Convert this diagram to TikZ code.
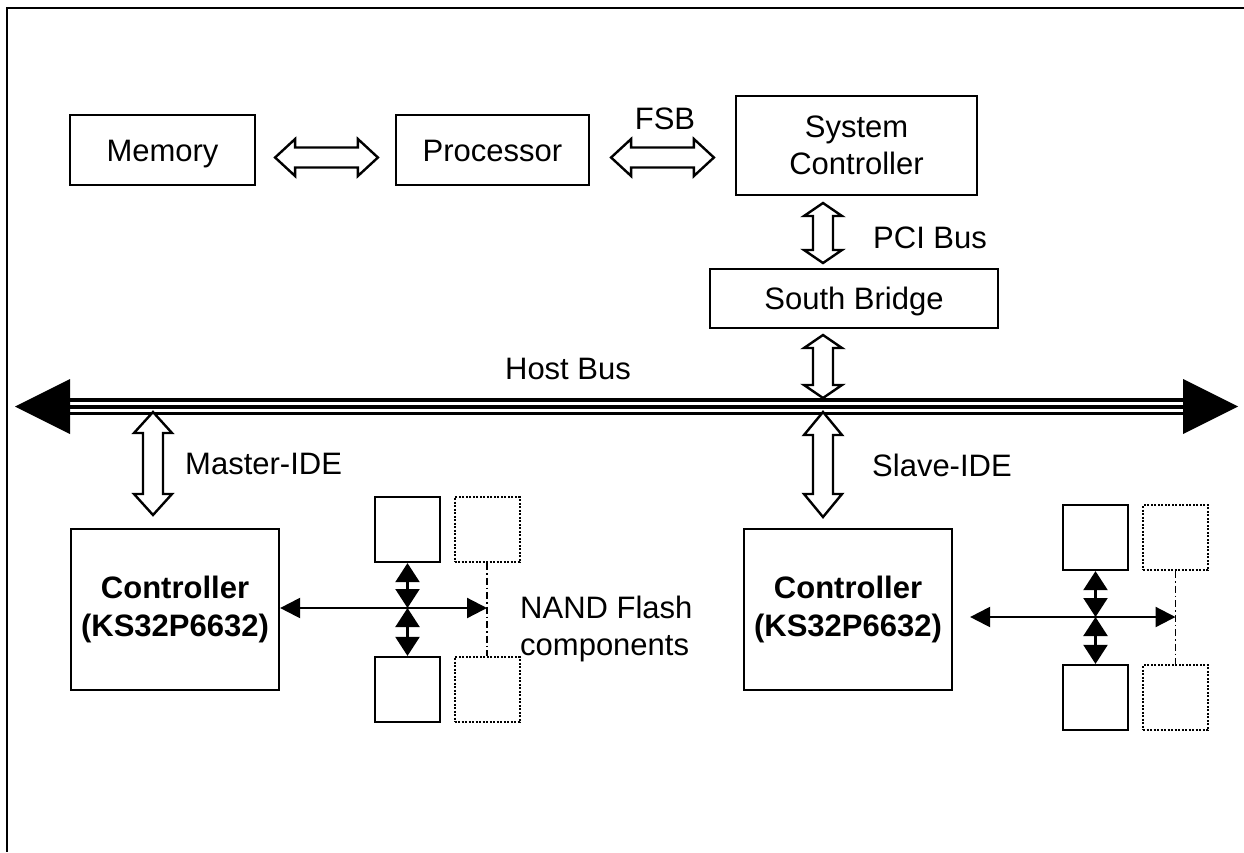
\documentclass[tikz,border=0pt]{standalone}
\usepackage{fontspec}
\setmainfont{Liberation Sans}
\usetikzlibrary{arrows.meta,calc}
\newcommand{\vblockarrow}[3]{%
  \draw[blockarrow] let \p1=(#1), \p2=(#2) in
    (\x1,\y1) -- (\x1+19pt,\y1-#3) -- (\x1+10pt,\y1-#3) -- (\x1+10pt,\y2+#3) -- (\x1+19pt,\y2+#3)
    -- (\x1,\y2) -- (\x1-19pt,\y2+#3) -- (\x1-10pt,\y2+#3) -- (\x1-10pt,\y1-#3) -- (\x1-19pt,\y1-#3) -- cycle;}
\newcommand{\hblockarrow}[3]{%
  \draw[blockarrow] let \p1=(#1), \p2=(#2) in
    (\x1,\y1) -- (\x1+#3,\y1+18.5pt) -- (\x1+#3,\y1+10pt) -- (\x2-#3,\y1+10pt) -- (\x2-#3,\y1+18.5pt)
    -- (\x2,\y1) -- (\x2-#3,\y1-18.5pt) -- (\x2-#3,\y1-10pt) -- (\x1+#3,\y1-10pt) -- (\x1+#3,\y1-18.5pt) -- cycle;}
\tikzset{
  txt/.style={font=\fontsize{31}{37}\selectfont, inner sep=0pt},
  blk/.style={draw, line width=2.2pt, inner sep=0pt, font=\fontsize{31}{37}\selectfont},
  sblk/.style={draw, line width=2.2pt, minimum width=65pt, minimum height=65pt, inner sep=0pt},
  dblk/.style={draw, line width=2pt, dash pattern=on 2pt off 1.5pt, minimum width=65pt, minimum height=65pt, inner sep=0pt},
  blockarrow/.style={draw, line width=2.4pt, fill=white, line join=miter},
  farrow/.style={line width=2.2pt, {Triangle[length=20pt,width=20pt]}-{Triangle[length=20pt,width=20pt]}},
  varr/.style={line width=2.2pt, {Triangle[length=19pt,width=24pt]}-{Triangle[length=19pt,width=24pt]}},
  dashdot/.style={line width=1.6pt, dash pattern=on 7pt off 3pt on 1.5pt off 3pt},
}
\begin{document}
\begin{tikzpicture}[x=1pt,y=-1pt]
\useasboundingbox (0,0) rectangle (1244,852);
\fill[white] (0,0) rectangle (1244,852);
% frame
\draw[line width=2.8pt] (1244,8) -- (7,8) -- (7,852);

% top row
\node[blk, minimum width=185pt, minimum height=70pt, text height=22pt, text depth=0pt] (mem) at (162.5,150) {Memory};
\node[blk, minimum width=193pt, minimum height=70pt, text height=22pt, text depth=0pt] (proc) at (492.5,150) {Processor};
\node[blk, minimum width=241pt, minimum height=99pt, align=center] (sc) at (856.5,145.5) {System\\Controller};
\node[blk, minimum width=288pt, minimum height=59pt, text height=22pt, text depth=0pt] (sb) at (854,298.5) {South Bridge};

\hblockarrow{$(mem.east)+(19,7.5)$}{$(proc.west)+(-17,7.5)$}{20pt}
\hblockarrow{$(proc.east)+(21,7.5)$}{$(sc.west)+(-21,12)$}{20pt}
\node[txt, text height=22pt, text depth=0pt] (fsb) at (665,118.5) {FSB};

\coordinate (pciT) at (823,203);
\coordinate (pciB) at (823,263);
\vblockarrow{pciT}{pciB}{13pt}
\node[txt, anchor=west, text height=22pt, text depth=0pt] (pci) at (873,237) {PCI Bus};

% host bus
\coordinate (busL) at (15,406.5);
\coordinate (busR) at (1238,406.5);
\draw[line width=17pt] ($(busL)+(54,0)$) -- ($(busR)+(-54,0)$);
\draw[line width=10pt, white] ($(busL)+(54,0)$) -- ($(busR)+(-54,0)$);
\draw[line width=4pt] ($(busL)+(54,0)$) -- ($(busR)+(-54,0)$);
\fill (busL) -- ($(busL)+(55,-27.5)$) -- ($(busL)+(55,27.5)$) -- cycle;
\fill (busR) -- ($(busR)+(-55,-27.5)$) -- ($(busR)+(-55,27.5)$) -- cycle;
\node[txt, text height=22pt, text depth=0pt] (host) at (568,368) {Host Bus};

\coordinate (sbT) at (823,335);
\coordinate (sbB) at (823,398);
\vblockarrow{sbT}{sbB}{13pt}

\coordinate (mT) at (153,412);
\coordinate (mB) at (153,515);
\vblockarrow{mT}{mB}{21pt}
\node[txt, anchor=west, text height=22pt, text depth=0pt] (mide) at (185,463) {Master-IDE};

\coordinate (sT) at (823,412);
\coordinate (sB) at (823,517);
\vblockarrow{sT}{sB}{23pt}
\node[txt, anchor=west, text height=22pt, text depth=0pt] (side) at (872,465) {Slave-IDE};

% controllers
\node[blk, minimum width=208pt, minimum height=161pt, align=center, font=\fontsize{31}{38}\selectfont\bfseries] (ctrlL) at (175,609.5) {Controller\\(KS32P6632)};
\node[blk, minimum width=208pt, minimum height=161pt, align=center, font=\fontsize{31}{38}\selectfont\bfseries] (ctrlR) at (848,609.5) {Controller\\(KS32P6632)};

% left flash cluster
\node[sblk] (fl1) at (407.5,529.5) {};
\node[dblk] (fl2) at (487,529.5) {};
\node[sblk] (fl3) at (407.5,689.5) {};
\node[dblk] (fl4) at (487,689.5) {};
\coordinate (hlE) at (487,608);
\coordinate (hlC) at (fl1.south |- hlE);
\draw[dashdot] (fl2.south) -- (fl4.north);
\draw[farrow] (ctrlL.east |- hlE) -- (hlE);
\draw[varr] (fl1.south) -- (hlC);
\draw[varr] (hlC) -- (fl3.north);
\node[txt, anchor=west, align=left] (nand) at (520,629) {NAND Flash\\components};

% right flash cluster
\node[sblk] (fr1) at (1095.5,537.5) {};
\node[dblk] (fr2) at (1175.5,537.5) {};
\node[sblk] (fr3) at (1095.5,697.5) {};
\node[dblk] (fr4) at (1175.5,697.5) {};
\coordinate (hrE) at (1175.5,617);
\coordinate (hrS) at ($(ctrlR.east |- hrE)+(17,0)$);
\coordinate (hrC) at (fr1.south |- hrE);
\draw[dashdot] (fr2.south) -- (fr4.north);
\draw[farrow] (hrS) -- (hrE);
\draw[varr] (fr1.south) -- (hrC);
\draw[varr] (hrC) -- (fr3.north);
\end{tikzpicture}
\end{document}
